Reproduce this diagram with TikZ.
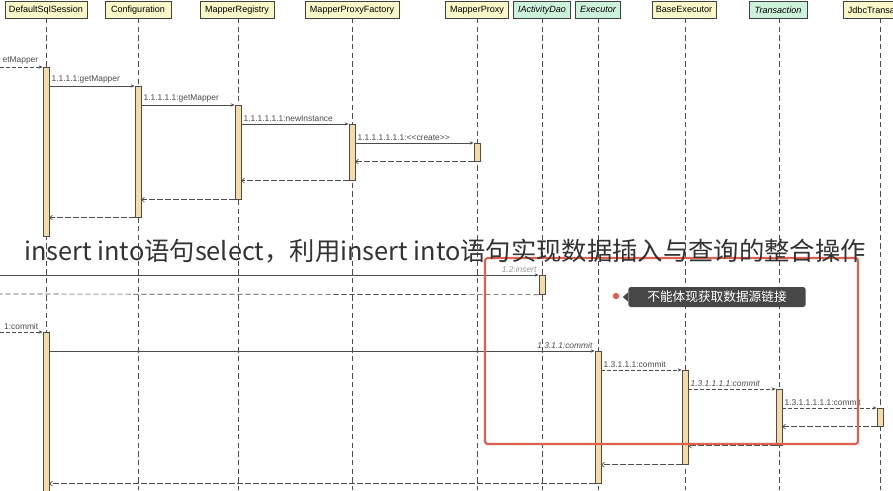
\documentclass[tikz,border=0pt]{standalone}
\usepackage{fontspec}
\setmainfont[Ligatures=NoCommon]{Liberation Sans}
\newfontfamily\cjk{Noto Sans CJK SC}
\usetikzlibrary{arrows.meta,shapes.callouts}
\definecolor{hy}{HTML}{FAF7C8}
\definecolor{hg}{HTML}{CDF2DC}
\definecolor{act}{HTML}{F6DAA8}
\definecolor{rd}{HTML}{E06050}
\tikzset{
 head/.style={draw=black!75,line width=0.6pt,minimum height=12.75pt,inner sep=1pt,font=\fontsize{6.8}{7}\selectfont,anchor=north},
 hy/.style={head,fill=hy},
 hg/.style={head,fill=hg,font=\fontsize{6.8}{7}\selectfont\itshape},
 life/.style={black!70,dash pattern=on 4pt off 2.5pt,line width=0.5pt},
 actb/.style={draw=black!70,fill=act,line width=0.5pt,minimum width=4.5pt,inner sep=0pt,anchor=north},
 call/.style={black!70,line width=0.5pt,-{Stealth[length=3pt,width=2.5pt]}},
 dcall/.style={call,dash pattern=on 3pt off 1.5pt},
 ret/.style={black!70,line width=0.5pt,dash pattern=on 4pt off 2pt,-{To[length=2.5pt,width=4pt]}},
 lab/.style={font=\fontsize{6.3}{7}\selectfont,anchor=south west,inner sep=1.5pt},
}
\begin{document}
\begin{tikzpicture}[x=0.75pt,y=-0.75pt]
\useasboundingbox[fill=white] (0,0) rectangle (893,490);
% lifelines
\foreach \x in {46,138,238,352,477,542,598,685,779,880}{\draw[life] (\x,18) -- (\x,490);}
% heads
\node[hy,minimum width=61.5pt] (dss) at (46,1) {DefaultSqlSession};
\node[hy,minimum width=49.5pt] (cfg) at (138,1) {Configuration};
\node[hy,minimum width=55.5pt] (mr) at (237,1) {MapperRegistry};
\node[hy,minimum width=70.5pt] (mpf) at (352,1) {MapperProxyFactory};
\node[hy,minimum width=47pt] (mp) at (477,1) {MapperProxy};
\node[hg,minimum width=43pt] (iad) at (542,1) {IActivityDao};
\node[hg,minimum width=33.5pt] (ex) at (598,1) {Executor};
\node[hy,minimum width=48pt] (be) at (684,1) {BaseExecutor};
\node[hg,minimum width=43.5pt] (tr) at (778,1) {Transaction};
\node[hy,minimum width=42pt,anchor=north west] (jt) at (843,1) {JdbcTransa};
% activations
\node[actb,minimum height=126.75pt] (a1) at (46,67) {};
\node[actb,minimum height=98.25pt] (a2) at (138,86) {};
\node[actb,minimum height=70.5pt] (a3) at (238,105) {};
\node[actb,minimum height=42pt] (a4) at (352,124) {};
\node[actb,minimum height=13.5pt] (a5) at (477,143) {};
\node[actb,minimum height=14.25pt] (a6) at (542,275) {};
\node[actb,minimum height=120pt] (a7) at (46,332) {};
\node[actb,minimum height=99pt] (a8) at (598,351) {};
\node[actb,minimum height=70.5pt] (a9) at (685,370) {};
\node[actb,minimum height=42pt] (a10) at (779,389) {};
\node[actb,minimum height=13.5pt] (a11) at (880,408) {};
\coordinate (L1) at (0,67); \coordinate (L2) at (0,275); \coordinate (L3) at (0,294);
\coordinate (L4) at (0,332);
% first block
\draw[dcall] (L1) -- (a1.north west) node[lab,anchor=south east,pos=0.95] {etMapper};
\draw[call] (a1.east|-0,86) -- (a2.north west) node[lab,pos=0] {1.1.1.1:getMapper};
\draw[call] (a2.east|-0,105) -- (a3.north west) node[lab,pos=0] {1.1.1.1.1:getMapper};
\draw[call] (a3.east|-0,124) -- (a4.north west) node[lab,pos=0] {1.1.1.1.1.1:newInstance};
\draw[call] (a4.east|-0,143) -- (a5.north west) node[lab,pos=0] {1.1.1.1.1.1.1:{<}{<}create{>}{>}};
\draw[ret] (a5.south west) -- (a4.east|-a5.south);
\draw[ret] (a4.south west) -- (a3.east|-a4.south);
\draw[ret] (a3.south west) -- (a2.east|-a3.south);
\draw[ret] (a2.south west) -- (a1.east|-a2.south);
% insert
\draw[call] (L2) -- (a6.north west) node[lab,anchor=south east,pos=1,text=black!40,font=\fontsize{6.3}{7}\selectfont\itshape] {1.2:insert};
\draw[black!70,line width=0.5pt,dash pattern=on 4pt off 2pt] (a6.south west) -- (L3);
% commit
\draw[dcall] (L4) -- (a7.north west) node[lab,anchor=south east,pos=0.95] {1:commit};
\draw[call] (a7.east|-0,351) -- (a8.north west) node[lab,anchor=south east,pos=1,font=\fontsize{6.3}{7}\selectfont\itshape] {1.3.1.1:commit};
\draw[dcall] (a8.east|-0,370) -- (a9.north west) node[lab,pos=0] {1.3.1.1.1:commit};
\draw[dcall] (a9.east|-0,389) -- (a10.north west) node[lab,pos=0,font=\fontsize{6.3}{7}\selectfont\itshape] {1.3.1.1.1.1:commit};
\draw[dcall] (a10.east|-0,408) -- (a11.north west) node[lab,pos=0] {1.3.1.1.1.1.1:commit};
\draw[ret] (a11.south west) -- (a10.east|-a11.south);
\draw[ret] (a10.south west) -- (a9.east|-a10.south);
\draw[ret] (a9.south west) -- (a8.east|-a9.south);
\draw[ret] (a8.south west) -- (a7.east|-a8.south);
% overlay annotations
\draw[rd,line width=1.6pt,rounded corners=2pt] (485,258) rectangle (858,444);
\fill[rd] (616,296) circle (2.4pt);
\node[fill=black!72,text=white,rounded corners=2pt,minimum width=133pt,minimum height=15pt,inner sep=1pt,font=\cjk\fontsize{9.5}{10}\selectfont] (tip) at (717,297) {不能体现获取数据源链接};
\fill[black!72] (tip.west)++(0,-3.5pt) -- ++(-4pt,3.5pt) -- ++(4pt,3.5pt) -- cycle;
\node[font=\cjk\fontsize{19}{20}\selectfont,text=black!80,inner sep=0pt] (ov) at (445,251) {insert into语句select，利用insert into语句实现数据插入与查询的整合操作};
\end{tikzpicture}
\end{document}
